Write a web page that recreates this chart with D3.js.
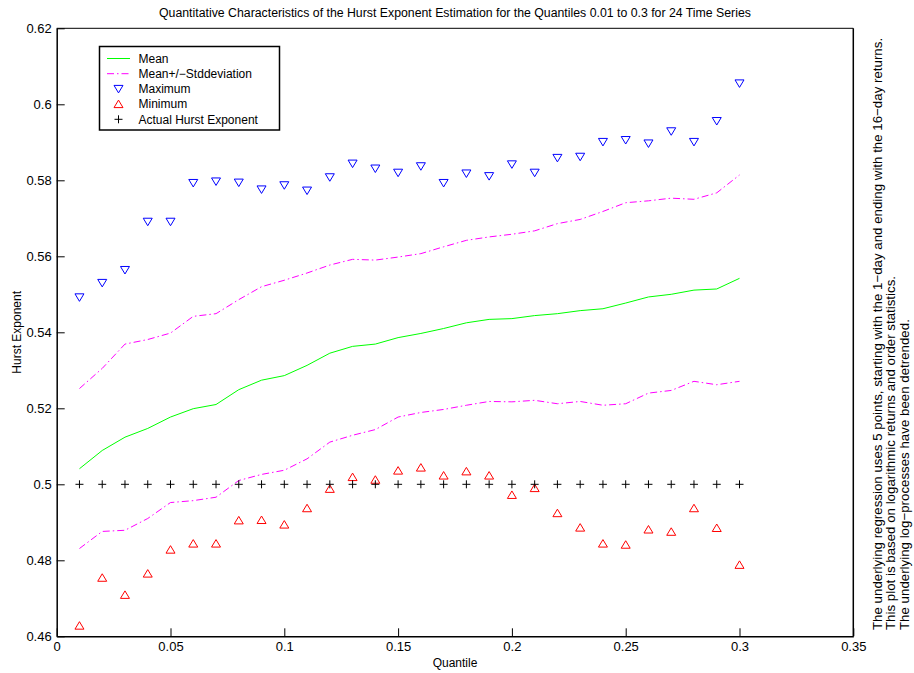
<!DOCTYPE html>
<html><head><meta charset="utf-8">
<script src="https://cdn.jsdelivr.net/npm/d3@7"></script>
<style>body{margin:0;background:#fff}svg{display:block;font-family:"Liberation Sans",Arial,sans-serif}</style>
</head><body>
<svg id="c" width="914" height="673"></svg>
<script>
const quantiles = [0.01,0.02,0.03,0.04,0.05,0.06,0.07,0.08,0.09,0.10,0.11,0.12,0.13,0.14,0.15,0.16,0.17,0.18,0.19,0.20,0.21,0.22,0.23,0.24,0.25,0.26,0.27,0.28,0.29,0.30];
const meanVals = [0.5041,0.5089,0.5124,0.5147,0.5177,0.5199,0.5210,0.5249,0.5274,0.5286,0.5313,0.5345,0.5363,0.5369,0.5386,0.5397,0.5410,0.5425,0.5434,0.5436,0.5444,0.5449,0.5457,0.5462,0.5477,0.5493,0.5500,0.5511,0.5514,0.5542];
const upperVals = [0.5252,0.5305,0.5369,0.5381,0.5398,0.5442,0.5449,0.5486,0.5520,0.5537,0.5556,0.5577,0.5592,0.5590,0.5598,0.5607,0.5625,0.5642,0.5651,0.5658,0.5667,0.5686,0.5697,0.5718,0.5741,0.5746,0.5753,0.5750,0.5767,0.5814];
const lowerVals = [0.4831,0.4876,0.4879,0.4910,0.4952,0.4957,0.4966,0.5010,0.5026,0.5037,0.5067,0.5111,0.5129,0.5144,0.5177,0.5189,0.5197,0.5208,0.5218,0.5217,0.5221,0.5212,0.5218,0.5208,0.5212,0.5240,0.5247,0.5271,0.5262,0.5271];
const maxVals = [0.5492,0.5530,0.5564,0.5691,0.5691,0.5793,0.5797,0.5794,0.5776,0.5787,0.5773,0.5808,0.5844,0.5831,0.5820,0.5837,0.5793,0.5818,0.5811,0.5842,0.5820,0.5859,0.5862,0.5901,0.5906,0.5897,0.5929,0.5901,0.5956,0.6055];
const minVals = [0.4628,0.4754,0.4709,0.4765,0.4828,0.4844,0.4844,0.4905,0.4906,0.4894,0.4937,0.4988,0.5019,0.5012,0.5036,0.5044,0.5023,0.5034,0.5023,0.4972,0.4990,0.4924,0.4886,0.4844,0.4841,0.4881,0.4875,0.4937,0.4885,0.4788];
const actualVals = quantiles.map(() => 0.5);
const xTicks = [0,0.05,0.1,0.15,0.2,0.25,0.3,0.35];
const xTickLabels = ["0","0.05","0.1","0.15","0.2","0.25","0.3","0.35"];
const yTicks = [0.46,0.48,0.5,0.52,0.54,0.56,0.58,0.6,0.62];
const yTickLabels = ["0.46","0.48","0.5","0.52","0.54","0.56","0.58","0.6","0.62"];
const legendLabels = ["Mean","Mean+/\u2212Stddeviation","Maximum","Minimum","Actual Hurst Exponent"];
const titleText = "Quantitative Characteristics of the Hurst Exponent Estimation for the Quantiles 0.01 to 0.3 for 24 Time Series";
const sideNotes = ["The underlying regression uses 5 points, starting with the 1\u2212day and ending with the 16\u2212day returns.",
  "This plot is based on logarithmic returns and order statistics.",
  "The underlying log\u2212processes have been detrended."];

const svg = d3.select("#c");
const L = 56.7, R = 853.3, T = 28.3, B = 636.3;
const x = d3.scaleLinear().domain([0,0.35]).range([L,R]);
const y = d3.scaleLinear().domain([0.46,0.62]).range([B,T]);

// axes
const xAxis = d3.axisBottom(x).tickValues(xTicks).tickFormat((d,i)=>xTickLabels[i]).tickSizeInner(-8).tickSizeOuter(0).tickPadding(5);
const gx = svg.append("g").attr("transform",`translate(0,${B})`).call(xAxis);
const yAxis = d3.axisLeft(y).tickValues(yTicks).tickFormat((d,i)=>yTickLabels[i]).tickSizeInner(-8).tickSizeOuter(0).tickPadding(5);
const gy = svg.append("g").attr("transform",`translate(${L},0)`).call(yAxis);
[gx,gy].forEach(g=>{
  g.select(".domain").attr("stroke","#000").attr("stroke-width",1.5);
  g.selectAll(".tick line").attr("stroke","#000").attr("stroke-width",1);
  g.selectAll(".tick text").attr("fill","#000").attr("font-size",13).attr("font-family","Liberation Sans, Arial, sans-serif");
});
// box top/right
svg.append("line").attr("x1",L).attr("x2",R).attr("y1",T).attr("y2",T).attr("stroke","#000").attr("stroke-width",1);
svg.append("line").attr("x1",R).attr("x2",R).attr("y1",T).attr("y2",B).attr("stroke","#000").attr("stroke-width",1.5);

// title and labels
svg.append("text").attr("x",(L+R)/2).attr("y",17).attr("text-anchor","middle").attr("font-size",12.3).text(titleText);
svg.append("text").attr("x",(L+R)/2).attr("y",667).attr("text-anchor","middle").attr("font-size",12).text("Quantile");
svg.append("text").attr("transform",`translate(21,${(T+B)/2}) rotate(-90)`).attr("text-anchor","middle").attr("font-size",12).text("Hurst Exponent");
sideNotes.forEach((t,i)=>{
  const tx = 882 + i*13.3;
  svg.append("text").attr("transform",`translate(${tx},630) rotate(-90)`).attr("font-size",13.3).text(t);
});

const data = (vals)=>quantiles.map((q,i)=>[q,vals[i]]);
const line = d3.line().x(d=>x(d[0])).y(d=>y(d[1]));
const dashPat = "7,3,1.5,3";
svg.append("path").datum(data(meanVals)).attr("d",line).attr("fill","none").attr("stroke","#00ff00").attr("stroke-width",1);
svg.append("path").datum(data(upperVals)).attr("d",line).attr("fill","none").attr("stroke","#ff00ff").attr("stroke-width",1).attr("stroke-dasharray",dashPat);
svg.append("path").datum(data(lowerVals)).attr("d",line).attr("fill","none").attr("stroke","#ff00ff").attr("stroke-width",1).attr("stroke-dasharray",dashPat);

const triDown = "M-4.5,-3.5L4.5,-3.5L0,4Z";
const triUp = "M-4.5,3.5L4.5,3.5L0,-4Z";
const plus = "M-4,0L4,0M0,-4L0,4";
svg.append("g").selectAll("path").data(data(maxVals)).join("path")
  .attr("transform",d=>`translate(${x(d[0])},${y(d[1])})`).attr("d",triDown).attr("fill","none").attr("stroke","#0000ff").attr("stroke-width",1);
svg.append("g").selectAll("path").data(data(minVals)).join("path")
  .attr("transform",d=>`translate(${x(d[0])},${y(d[1])})`).attr("d",triUp).attr("fill","none").attr("stroke","#ff0000").attr("stroke-width",1);
svg.append("g").selectAll("path").data(data(actualVals)).join("path")
  .attr("transform",d=>`translate(${x(d[0])},${y(d[1])})`).attr("d",plus).attr("fill","none").attr("stroke","#000").attr("stroke-width",1);

// legend
const lg = svg.append("g");
lg.append("rect").attr("x",99.5).attr("y",46.5).attr("width",180).attr("height",83.5).attr("fill","#fff").attr("stroke","#000").attr("stroke-width",1.5);
const ly = i => 58.5 + i*15.2;
lg.append("line").attr("x1",107).attr("x2",130).attr("y1",ly(0)).attr("y2",ly(0)).attr("stroke","#00ff00");
lg.append("line").attr("x1",107).attr("x2",130).attr("y1",ly(1)).attr("y2",ly(1)).attr("stroke","#ff00ff").attr("stroke-dasharray",dashPat);
lg.append("path").attr("transform",`translate(118.5,${ly(2)})`).attr("d",triDown).attr("fill","none").attr("stroke","#0000ff");
lg.append("path").attr("transform",`translate(118.5,${ly(3)})`).attr("d",triUp).attr("fill","none").attr("stroke","#ff0000");
lg.append("path").attr("transform",`translate(118.5,${ly(4)})`).attr("d",plus).attr("fill","none").attr("stroke","#000");
legendLabels.forEach((t,i)=>{
  lg.append("text").attr("x",138.5).attr("y",ly(i)).attr("dy","0.35em").attr("font-size",12).text(t);
});
</script>
</body></html>
